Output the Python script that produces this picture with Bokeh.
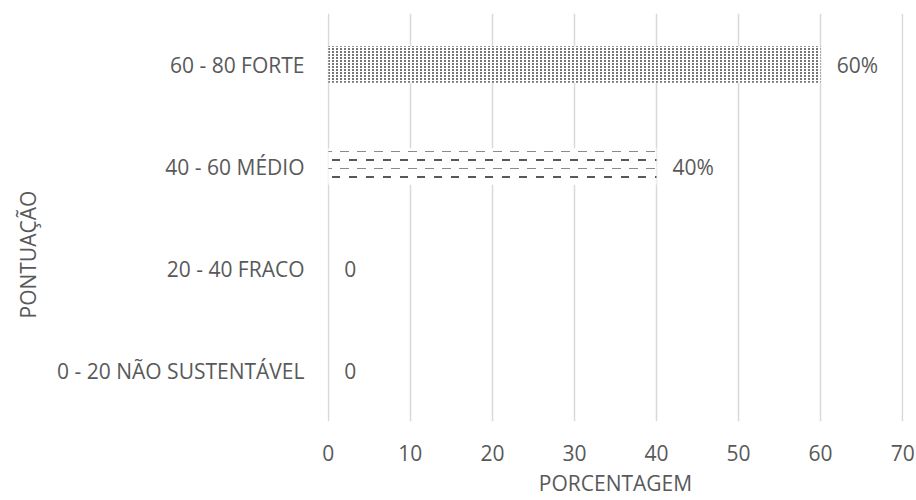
import base64
from bokeh.plotting import figure
from bokeh.models import (ColumnDataSource, FactorRange, Range1d, SingleIntervalTicker,
                          ImageURLTexture, Title)
from bokeh.embed import file_html
from bokeh.resources import INLINE

# ---- data (bottom to top) ----
categories = ["0 - 20 NÃO SUSTENTÁVEL", "20 - 40 FRACO", "40 - 60 MÉDIO", "60 - 80 FORTE"]
values = [0, 0, 40, 60]
value_labels = ["0", "0", "40%", "60%"]
x_axis_title = "PORCENTAGEM"
y_axis_title = "PONTUAÇÃO"

# ---- styles (not data) ----
patterns = [" ", " ", "dash", "dots"]

def svg_url(svg):
    return "data:image/svg+xml;base64," + base64.b64encode(svg.encode()).decode()

dash_tile = svg_url(
    "<svg xmlns='http://www.w3.org/2000/svg' width='17' height='17'>"
    "<rect x='0' y='15' width='9' height='1' fill='#8a8a8a'/>"
    "<rect x='9' y='6' width='8' height='2' fill='#595959'/>"
    "</svg>")
dot_tile = svg_url(
    "<svg xmlns='http://www.w3.org/2000/svg' width='4' height='3'>"
    "<rect x='0' y='0' width='2' height='2' fill='#767676'/>"
    "</svg>")

FONT = "Open Sans"
TXT = "#595959"

src = ColumnDataSource(dict(cat=categories, val=values, lab=value_labels, pat=patterns))

p = figure(width=916, height=500, output_backend="svg", toolbar_location=None,
           y_range=FactorRange(factors=categories), x_range=Range1d(-0.1, 70.1),
           min_border_left=327, min_border_right=13, min_border_top=13, min_border_bottom=79)

p.hbar(y="cat", right="val", left=0, height=0.36, source=src,
       fill_color="white", line_color=None,
       hatch_pattern={"field": "pat"},
       hatch_extra={"dash": ImageURLTexture(url=dash_tile), "dots": ImageURLTexture(url=dot_tile)})

p.text(x="val", y="cat", text="lab", source=src, x_offset=16,
       text_align="left", text_baseline="middle",
       text_font={"value": FONT}, text_font_size="21px", text_color=TXT)

p.outline_line_color = None
p.background_fill_color = "white"
p.border_fill_color = "white"

p.xaxis.ticker = SingleIntervalTicker(interval=10)
p.xgrid.ticker = SingleIntervalTicker(interval=10)
p.xgrid.grid_line_color = "#d9d9d9"
p.xgrid.grid_line_width = 1.5
p.ygrid.grid_line_color = None

for ax in (p.xaxis[0], p.yaxis[0]):
    ax.axis_line_color = None
    ax.major_tick_line_color = None
    ax.minor_tick_line_color = None
    ax.major_tick_out = 0
    ax.major_tick_in = 0
    ax.minor_tick_out = 0
    ax.minor_tick_in = 0
    ax.major_label_text_font = FONT
    ax.major_label_text_font_size = "21px"
    ax.major_label_text_color = TXT

p.xaxis.major_label_standoff = 23
p.yaxis.major_label_standoff = 23

# x title as the axis label
p.xaxis.axis_label = x_axis_title
p.xaxis.axis_label_standoff = 5
p.xaxis.axis_label_text_font = FONT
p.xaxis.axis_label_text_font_size = "21px"
p.xaxis.axis_label_text_color = TXT
p.xaxis.axis_label_text_font_style = "normal"

# y title: a side title, placed lower than the frame centre as in the reference
p.add_layout(Title(text=y_axis_title, align="left", vertical_align="top", offset=103,
                   standoff=22, text_font=FONT, text_font_size="21px",
                   text_font_style="normal", text_color=TXT), "left")

open("out.html", "w").write(file_html(p, INLINE))
